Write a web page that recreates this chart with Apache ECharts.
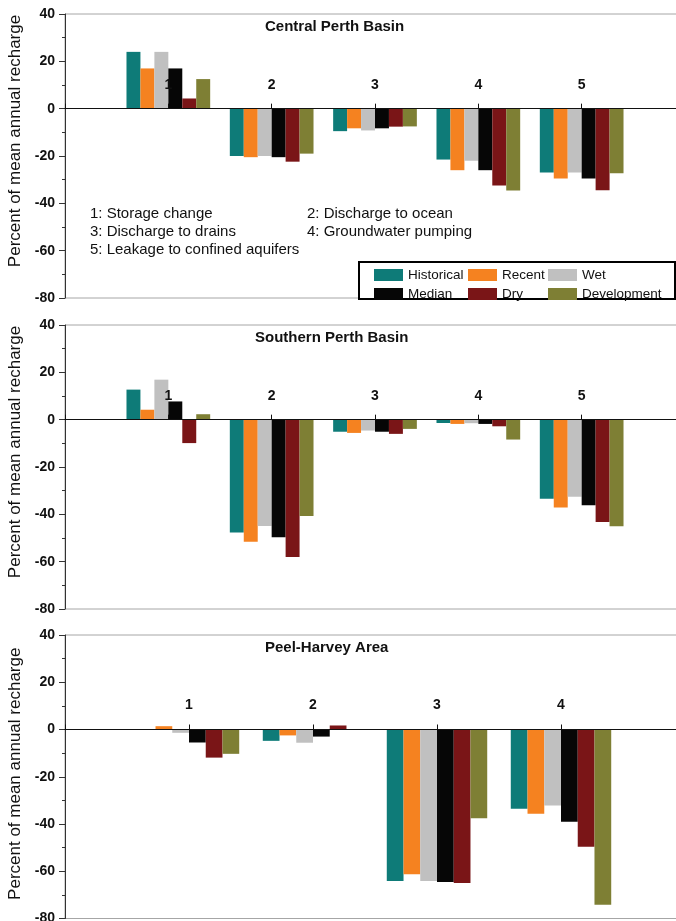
<!DOCTYPE html>
<html>
<head>
<meta charset="utf-8">
<script src="https://cdn.jsdelivr.net/npm/echarts@6/dist/echarts.min.js"></script>
<style>
  html, body { margin: 0; padding: 0; background: #fff; }
  #chart { width: 676px; height: 921px; }
</style>
</head>
<body>
<div id="chart"></div>
<script>
// component numbers shown on the x axis
const basinCats = ['1', '2', '3', '4', '5'];
const peelCats = ['1', '2', '3', '4'];

const seriesNames = ['Historical', 'Recent', 'Wet', 'Median', 'Dry', 'Development'];
const seriesColors = ['#0e7b78', '#f58220', '#c0c0c0', '#060606', '#7a1517', '#7e7f34'];

// Central Perth Basin (percent of mean annual recharge)
const centralHistorical = [24, -20, -9.5, -21.5, -27];
const centralRecent = [17, -20.5, -8.3, -26, -29.5];
const centralWet = [24, -20, -9.2, -22, -27];
const centralMedian = [17, -20.5, -8.3, -26, -29.5];
const centralDry = [4.3, -22.4, -7.6, -32.5, -34.5];
const centralDevelopment = [12.5, -19, -7.5, -34.6, -27.3];

// Southern Perth Basin
const southHistorical = [12.7, -47.7, -5.1, -1.4, -33.4];
const southRecent = [4.2, -51.6, -5.6, -1.8, -37.1];
const southWet = [16.9, -44.9, -4.6, -1.5, -32.6];
const southMedian = [7.7, -49.7, -5.1, -1.8, -36.2];
const southDry = [-9.9, -58, -6, -2.8, -43.2];
const southDevelopment = [2.3, -40.7, -3.9, -8.4, -45];

// Peel-Harvey Area
const peelHistorical = [0, -4.8, -64.1, -33.5];
const peelRecent = [1.4, -2.5, -61.3, -35.7];
const peelWet = [-1.4, -5.6, -64.1, -32.2];
const peelMedian = [-5.5, -3, -64.5, -39];
const peelDry = [-11.9, 1.7, -65, -49.6];
const peelDevelopment = [-10.3, 0, -37.6, -74.2];

const yTicks = [40, 20, 0, -20, -40, -60, -80];

const font = "'Liberation Sans', Arial, sans-serif";

const panels = [
    { title: 'Central Perth Basin', titleLeft: 265, top: 14, height: 284, namePad: 30, cats: basinCats,
      data: [centralHistorical, centralRecent, centralWet, centralMedian, centralDry, centralDevelopment] },
    { title: 'Southern Perth Basin', titleLeft: 255, top: 325, height: 284, namePad: 30, cats: basinCats,
      data: [southHistorical, southRecent, southWet, southMedian, southDry, southDevelopment] },
    { title: 'Peel-Harvey Area', titleLeft: 265, top: 635, height: 283.5, namePad: 6, cats: peelCats,
      data: [peelHistorical, peelRecent, peelWet, peelMedian, peelDry, peelDevelopment] }
];

const yMin = yTicks[yTicks.length - 1], yMax = yTicks[0];
const grids = [], xAxes = [], yAxes = [], titles = [], series = [];

panels.forEach((p, i) => {
    grids.push({
        left: 65, width: 620, top: p.top, height: p.height,
        outerBoundsMode: 'none', // grid runs past the right edge, like the cropped original
        show: true, borderColor: '#a6a6a6', borderWidth: 1
    });
    titles.push({
        text: p.title, left: p.titleLeft, top: p.top + 5, padding: 0,
        textStyle: { fontFamily: font, fontSize: 15, fontWeight: 'bold', color: '#111' }
    });
    xAxes.push({
        type: 'category', gridIndex: i,
        data: ['', ...p.cats, ''], // blank slots at both edges
        boundaryGap: false,
        position: 'bottom',
        // lift the whole axis (line, ticks, labels) up to the zero level
        offset: -p.height * (0 - yMin) / (yMax - yMin),
        z: 5,
        axisLine: { onZero: false, lineStyle: { color: '#111', width: 1.2 } },
        axisTick: { inside: true, length: 5, lineStyle: { color: '#111' } },
        axisLabel: {
            inside: true, interval: 0, margin: 17,
            fontFamily: font, fontSize: 14, fontWeight: 'bold', color: '#111'
        },
        splitLine: { show: false }
    });
    yAxes.push({
        type: 'value', gridIndex: i,
        min: yMin, max: yMax, interval: 20,
        name: 'Percent of mean annual recharge',
        nameLocation: 'middle', nameGap: 37,
        nameTextStyle: { fontFamily: font, fontSize: 17, color: '#111', padding: [0, 0, 0, p.namePad] },
        axisLine: { show: true, lineStyle: { color: '#333', width: 1 } },
        axisTick: { show: true, length: 6, lineStyle: { color: '#333' } },
        minorTick: { show: true, splitNumber: 2, length: 3, lineStyle: { color: '#333' } },
        axisLabel: { margin: 10, fontFamily: font, fontSize: 14, fontWeight: 'bold', color: '#111' },
        splitLine: { show: false }
    });
    p.data.forEach((vals, k) => {
        series.push({
            type: 'bar', name: seriesNames[k],
            xAxisIndex: i, yAxisIndex: i,
            data: [null, ...vals, null],
            itemStyle: { color: seriesColors[k] },
            barGap: '0%', barCategoryGap: '19%'
        });
    });
});

// legend in three columns of two rows
const legendCols = [[0, 3], [1, 4], [2, 5]];
const legendLefts = [374, 468, 548];
const legends = legendCols.map((col, j) => ({
    orient: 'vertical', left: legendLefts[j], top: 268, padding: 0,
    itemWidth: 29, itemHeight: 12, itemGap: 5, icon: 'rect',
    data: col.map(k => seriesNames[k]),
    textStyle: { fontFamily: font, fontSize: 13.5, color: '#111' },
    z: 10
}));

const chart = echarts.init(document.getElementById('chart'), null, { renderer: 'canvas' });
chart.setOption({
    animation: false,
    title: titles,
    grid: grids,
    xAxis: xAxes,
    yAxis: yAxes,
    legend: legends,
    graphic: [
        {
            type: 'rect', z: 8, silent: true,
            shape: { x: 359, y: 262, width: 316, height: 37 },
            style: { fill: '#fff', stroke: '#000', lineWidth: 2 }
        },
        {
            type: 'text', left: 90, top: 205, z: 8,
            style: {
                text: '1: Storage change\n3: Discharge to drains\n5: Leakage to confined aquifers',
                font: '15px ' + font, lineHeight: 18, fill: '#111'
            }
        },
        {
            type: 'text', left: 307, top: 205, z: 8,
            style: {
                text: '2: Discharge to ocean\n4: Groundwater pumping',
                font: '15px ' + font, lineHeight: 18, fill: '#111'
            }
        }
    ],
    series: series
});
</script>
</body>
</html>
